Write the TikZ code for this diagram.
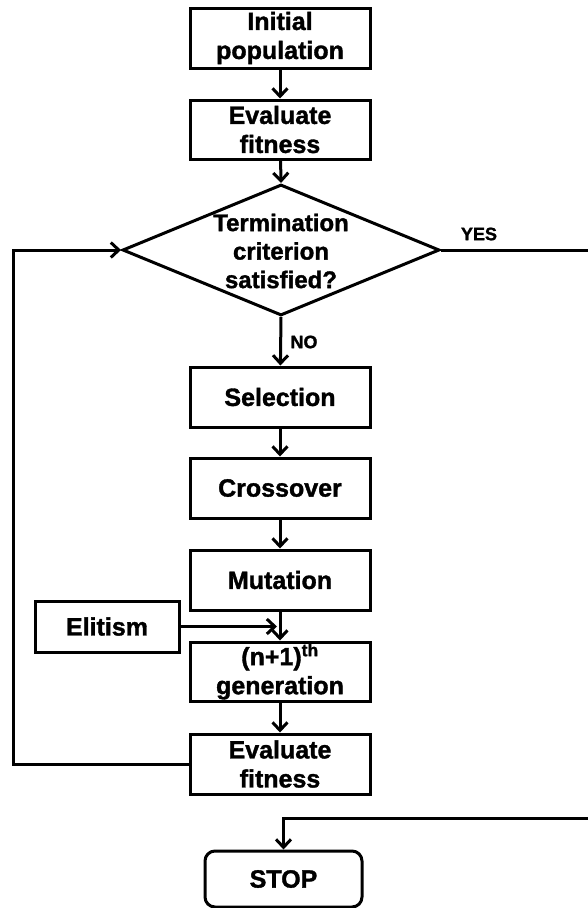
\documentclass[tikz,border=0pt]{standalone}
\usepackage{fontspec}
\setmainfont{Liberation Sans}
\newfontfamily\heavy{Liberation Sans Bold}[FakeBold=1.4]
\usetikzlibrary{arrows.meta,shapes.geometric}
\tikzset{
  box/.style={draw, line width=3pt, minimum width=180pt, minimum height=60pt, inner sep=0pt, align=center, font=\heavy\fontsize{25}{29}\selectfont},
  lbl/.style={inner sep=0pt, font=\heavy\fontsize{18}{20}\selectfont},
  conn/.style={line width=3pt, -{Straight Barb[length=8pt,width=15pt]}},
  plain/.style={line width=3pt}
}
\begin{document}
\begin{tikzpicture}[x=1pt,y=-1pt]
\useasboundingbox (0,0) rectangle (588,908);
\clip (0,0) rectangle (588,908);
\node[box] (init) at (280,38) {Initial\\population};
\node[box, minimum height=59pt] (ev1) at (280,129.5) {Evaluate\\fitness};
\node[draw, diamond, line width=3pt, minimum width=317pt, minimum height=131pt, inner sep=0pt] (dec) at (281,250) {};
\node[inner sep=0pt, align=center, font=\heavy\fontsize{24}{28.5}\selectfont] (dtext) at (281,251) {Termination\\criterion\\satisfied?};
\node[box] (sel) at (280,397) {Selection};
\node[box] (cross) at (280,488) {Crossover};
\node[box] (mut) at (280,580) {Mutation};
\node[box, minimum width=144pt, minimum height=51pt] (elit) at (107,626.5) {Elitism};
\node[box, minimum height=59pt] (gen) at (280,671.5) {(n+1)\textsuperscript{th}\\generation};
\node[box] (ev2) at (280,764) {Evaluate\\fitness};
\node[draw, line width=3pt, rounded corners=10pt, minimum width=157pt, minimum height=56pt, inner sep=0pt, font=\heavy\fontsize{25}{29}\selectfont] (stop) at (283.5,879) {STOP};
\node[lbl] (yes) at (479,234) {YES};
\node[lbl] (no) at (304,342) {NO};
\coordinate (loopl) at (13,250);
\coordinate (yesr) at (592,250);
\coordinate (yesb) at (592,818);
\coordinate (elm) at ([xshift=-3pt]mut.south |- elit.east);
\draw[conn] (init) -- (ev1);
\draw[conn] (ev1) -- (dec.north);
\draw[conn] (dec.south) -- (sel);
\draw[conn] (sel) -- (cross);
\draw[conn] (cross) -- (mut);
\draw[conn] (mut) -- (gen);
\draw[conn] (elit.east) -- (elm);
\draw[conn] (gen) -- (ev2);
\draw[conn] (ev2.west) -| (loopl) -- (dec.west);
\draw[conn] (dec.east) -- (yesr) -- (yesb) -| (stop.north);
\end{tikzpicture}
\end{document}
